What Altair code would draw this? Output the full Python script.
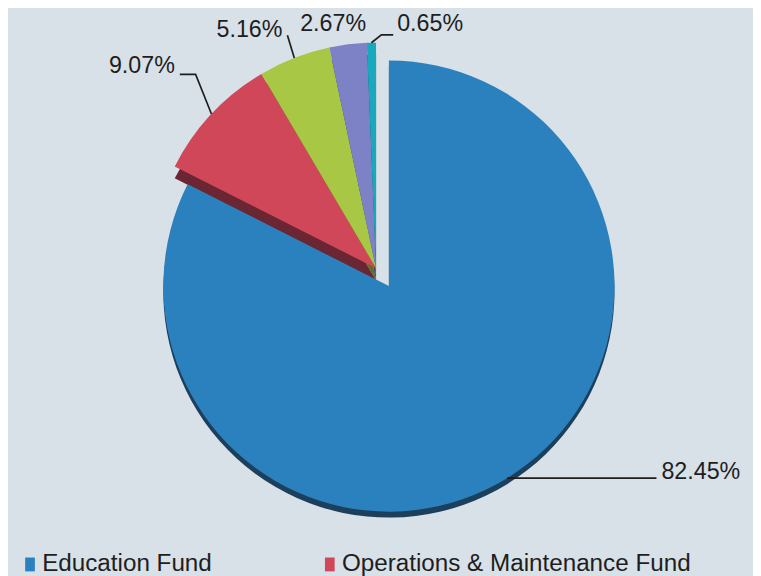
import altair as alt
import pandas as pd
import numpy as np

# ---- data ----
categories = ["Education Fund", "Operations & Maintenance Fund",
              "Transportation Fund", "Municipal Retirement / Social Security Fund",
              "Working Cash Fund"]
values = [82.45, 9.07, 5.16, 2.67, 0.65]
labels = ["82.45%", "9.07%", "5.16%", "2.67%", "0.65%"]

# ---- styles ----
colors = ["#2b80be", "#cf4758", "#a8c744", "#7c82c5", "#1aa8bd"]
shadow_colors = ["#1c3f5c", "#6a2632", "#5b6e22", "#3e4170", "#0e5560"]
BG = "#d8e0e8"
TXT = "#1e1e1e"
FONT = "Liberation Sans"

# ---- layout ----
W, H = 753, 568
R = 228
centers = {"main": (385, 278), "rest": (372, 260)}
shadow_dy = {"main": 6, "rest": 12}
# leader / label layout per slice: elbow offset from edge point, horizontal run,
# text offset from line end, text alignment, whether a leader is drawn
elbow_dx = [0, -16, -7, 0, 10]
elbow_dy = [0, -40, -23, 0, -8]
run_dx = [151, -16, 0, 0, 12]
text_dx = [5, -5, -5, -15, 4]
text_dy = [1, -1, 2, -14, -4]
text_align = ["left", "right", "right", "center", "left"]
draw_leader = [True, True, True, False, True]

# ---- tables built from the arrays ----
vals = np.array(values)
end = np.cumsum(vals)
start = end - vals
mid = (start + vals / 2) / vals.sum() * 2 * np.pi
group = ["main"] + ["rest"] * (len(values) - 1)

slices = pd.DataFrame({
    "cat": categories, "value": values, "start": start, "end": end,
    "group": group, "shadow": shadow_colors,
})

line_rows, text_rows = [], []
for i in range(len(values)):
    cx, cy = centers[group[i]]
    ex = cx + R * np.sin(mid[i])
    ey = cy - R * np.cos(mid[i])
    bx, by = ex + elbow_dx[i], ey + elbow_dy[i]
    fx, fy = bx + run_dx[i], by
    if draw_leader[i]:
        for k, (px, py) in enumerate([(ex, ey), (bx, by), (fx, fy)]):
            line_rows.append({"lab": labels[i], "k": k, "x": px, "y": py})
    text_rows.append({"lab": labels[i], "x": fx + text_dx[i], "y": fy + text_dy[i],
                      "align": text_align[i]})
lines = pd.DataFrame(line_rows)
texts = pd.DataFrame(text_rows)

xs = alt.Scale(domain=[0, W], range=[0, W], nice=False, zero=False)
ys = alt.Scale(domain=[0, H], range=[0, H], nice=False, zero=False)
theta_s = alt.Scale(domain=[0, float(vals.sum())])


def arcs(grp, shadow=False):
    cx, cy = centers[grp]
    base = alt.Chart(slices).transform_filter(alt.datum.group == grp)
    if shadow:
        return base.mark_arc(outerRadius=R).encode(
            theta=alt.Theta("start:Q", scale=theta_s),
            theta2="end:Q",
            color=alt.Color("shadow:N", scale=None),
            x=alt.value(cx), y=alt.value(cy + shadow_dy[grp]),
        )
    return base.mark_arc(outerRadius=R).encode(
        theta=alt.Theta("start:Q", scale=theta_s),
        theta2="end:Q",
        color=alt.Color("cat:N",
                        scale=alt.Scale(domain=categories, range=colors),
                        sort=categories,
                        legend=alt.Legend(
                            values=categories[:2], orient="none",
                            legendX=10, legendY=547, direction="horizontal",
                            title=None, symbolType="M-0.7,-1H0.7V1H-0.7Z",
                            symbolSize=196,
                            symbolStrokeWidth=0, symbolOpacity=1,
                            labelFont=FONT, labelFontSize=24.5, labelColor=TXT,
                            labelOffset=0, columnPadding=106, padding=0,
                            labelLimit=500)),
        x=alt.value(cx), y=alt.value(cy),
    )


leader = alt.Chart(lines).mark_line(color=TXT, strokeWidth=1.7).encode(
    x=alt.X("x:Q", scale=xs, axis=None),
    y=alt.Y("y:Q", scale=ys, axis=None),
    detail="lab:N", order="k:Q",
)


def text_layer(al):
    return alt.Chart(texts).transform_filter(alt.datum.align == al).mark_text(
        align=al, baseline="alphabetic", font=FONT, fontSize=23.5, color=TXT
    ).encode(
        x=alt.X("x:Q", scale=xs, axis=None),
        y=alt.Y("y:Q", scale=ys, axis=None),
        text="lab:N",
    )


chart = alt.layer(
    arcs("rest", shadow=True),
    arcs("main", shadow=True),
    arcs("main"),
    arcs("rest"),
    leader,
    text_layer("left"), text_layer("right"), text_layer("center"),
).properties(
    width=W, height=H, padding=0,
    autosize=alt.AutoSizeParams(type="none"),
    background=BG,
).configure_view(stroke=None, fill=BG)

chart.save("out.html", embed_options={"renderer": "svg", "actions": False})
